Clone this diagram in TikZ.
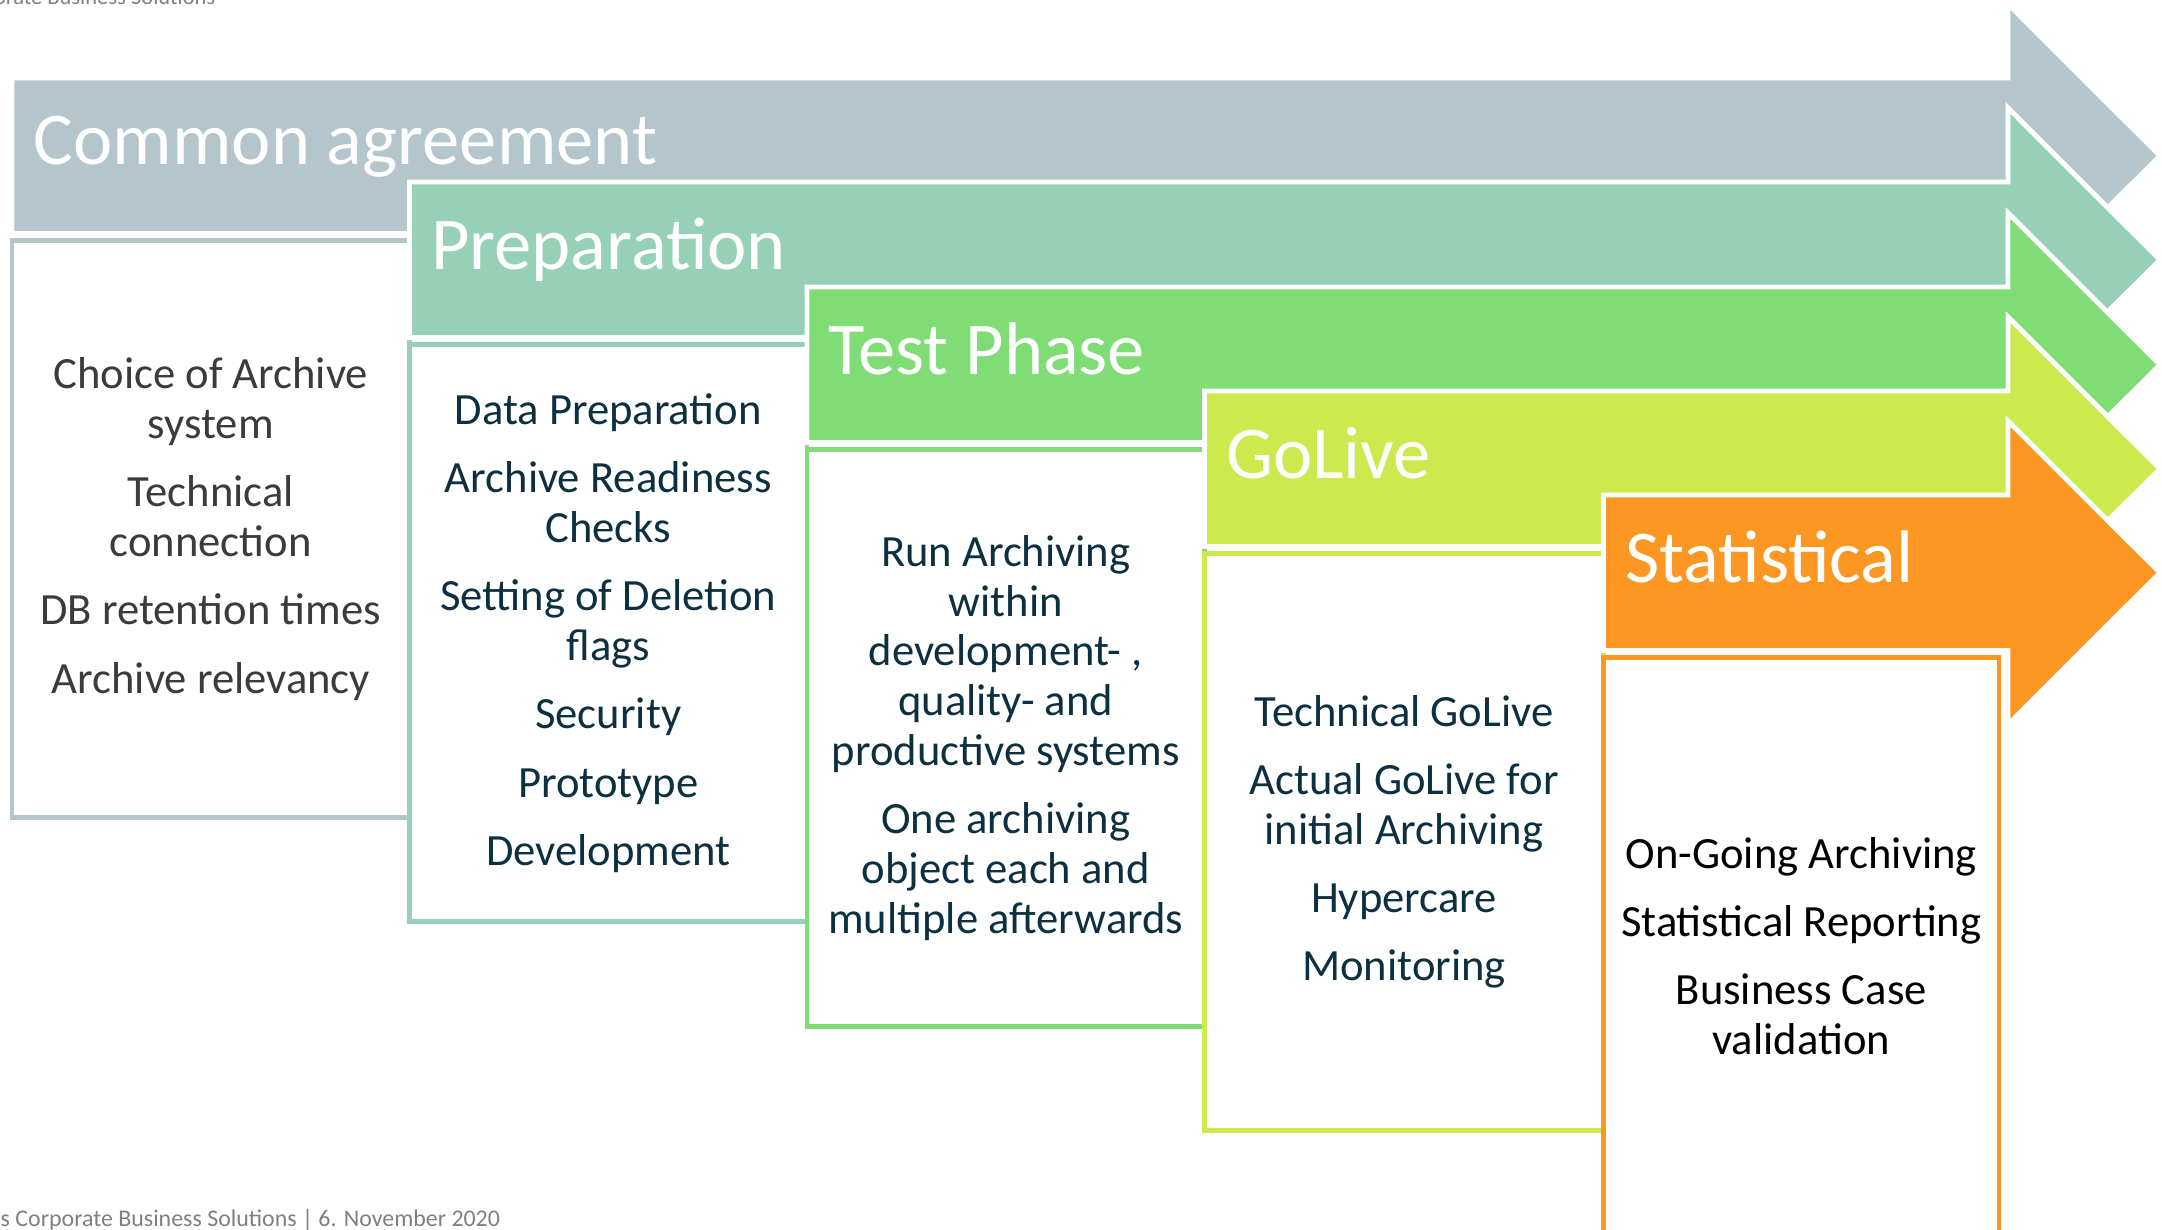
\documentclass[tikz,border=0pt]{standalone}
\usepackage{fontspec}
\setmainfont{Carlito}
\definecolor{agreementgray}{HTML}{B4C5CB}
\definecolor{preparationgreen}{HTML}{96D1B7}
\definecolor{testgreen}{HTML}{80DC74}
\definecolor{golivelime}{HTML}{CCEA4E}
\definecolor{statorange}{HTML}{FD9723}
\definecolor{darkgraytext}{HTML}{3B3B3B}
\definecolor{navytext}{HTML}{0D3040}
\definecolor{footergray}{HTML}{7F7F7F}
\tikzset{
  stagearrow/.style={draw=white,line width=1.4pt,fill=#1,line join=miter},
  stagetitle/.style={anchor=base west,inner sep=0pt,text=white,font=\fontsize{21.2}{25}\selectfont},
  stagebox/.style={draw=#1,line width=1.4pt,fill=white,minimum width=3.975cm,minimum height=5.77cm,
    inner sep=0pt,align=center,text=navytext,font=\fontsize{12.7}{14.2}\selectfont},
  footnote/.style={inner sep=0pt,text=footergray,font=\fontsize{6.4}{7.5}\selectfont}
}
\begin{document}
\begin{tikzpicture}[x=1cm,y=-1cm]
\useasboundingbox (0,0) rectangle (21.62,12.30);
\node[footnote,anchor=base east] (topnote) at (2.16,0.045) {orate Business Solutions};
% common agreement
\draw[stagearrow=agreementgray] (0.12,0.78) -- (20.08,0.78) -- (20.08,0.04) -- (21.60,1.5575) -- (20.08,3.075) -- (20.08,2.335) -- (0.12,2.335) -- cycle;
\node[stagetitle] (agreementtitle) at (0.33,1.65) {Common agreement};
\node[stagebox=agreementgray,text=darkgraytext] (agreementbox) at (2.1075,5.29)
  {Choice of Archive\\system\\[5.2pt]Technical\\connection\\[5.2pt]DB retention times\\[5.2pt]Archive relevancy};
% preparation
\draw[stagearrow=preparationgreen] (4.095,1.82) -- (20.08,1.82) -- (20.08,1.08) -- (21.60,2.5975) -- (20.08,4.115) -- (20.08,3.375) -- (4.095,3.375) -- cycle;
\node[stagetitle] (preparationtitle) at (4.305,2.69) {Preparation};
\node[stagebox=preparationgreen] (preparationbox) at (6.0825,6.33)
  {Data Preparation\\[5.2pt]Archive Readiness\\Checks\\[5.2pt]Setting of Deletion\\flags\\[5.2pt]Security\\[5.2pt]Prototype\\[5.2pt]Development};
% test phase
\draw[stagearrow=testgreen] (8.07,2.87) -- (20.08,2.87) -- (20.08,2.13) -- (21.60,3.6475) -- (20.08,5.165) -- (20.08,4.425) -- (8.07,4.425) -- cycle;
\node[stagetitle] (testtitle) at (8.28,3.74) {Test Phase};
\node[stagebox=testgreen] (testbox) at (10.0575,7.38)
  {Run Archiving\\within\\development- ,\\quality- and\\productive systems\\[5.2pt]One archiving\\object each and\\multiple afterwards};
% golive
\draw[stagearrow=golivelime] (12.045,3.91) -- (20.08,3.91) -- (20.08,3.17) -- (21.60,4.6875) -- (20.08,6.205) -- (20.08,5.465) -- (12.045,5.465) -- cycle;
\node[stagetitle] (golivetitle) at (12.255,4.78) {GoLive};
\node[stagebox=golivelime,minimum width=3.99cm] (golivebox) at (14.04,8.42)
  {Technical GoLive\\[5.2pt]Actual GoLive for\\initial Archiving\\[5.2pt]Hypercare\\[5.2pt]Monitoring};
% statistical
\draw[stagearrow=statorange] (16.035,4.95) -- (20.08,4.95) -- (20.08,4.21) -- (21.60,5.7275) -- (20.08,7.245) -- (20.08,6.505) -- (16.035,6.505) -- cycle;
\node[stagetitle] (stattitle) at (16.245,5.82) {Statistical};
\node[stagebox=statorange,minimum width=3.955cm,text=black] (statbox) at (18.0125,9.46)
  {On-Going Archiving\\[5.2pt]Statistical Reporting\\[5.2pt]Business Case\\validation};
\node[footnote,anchor=base west,font=\fontsize{6.8}{8}\selectfont] (bottomnote) at (0,12.26) {s Corporate Business Solutions | 6. November 2020};
\end{tikzpicture}
\end{document}
